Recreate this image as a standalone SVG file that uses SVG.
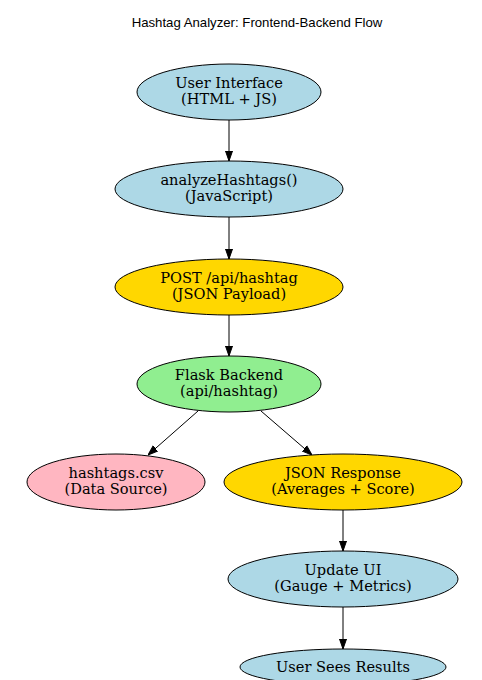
<svg xmlns="http://www.w3.org/2000/svg" width="482" height="680" viewBox="0 0 482 680">
<defs>
<style>
.n ellipse{stroke:#000;stroke-width:1}
.n text{font-family:"DejaVu Serif","Liberation Serif",serif;font-size:14.6px;text-anchor:middle;fill:#000}
.e line{stroke:#000;stroke-width:1}
.t{font-family:"Liberation Sans",Arial,sans-serif;font-size:13.2px;text-anchor:middle;fill:#000}
</style>
<marker id="ah" markerWidth="10" markerHeight="10" refX="10" refY="5" orient="auto" markerUnits="userSpaceOnUse">
<path d="M0,1.5 L10,5 L0,8.5 Z" fill="#000" stroke="#000"/>
</marker>
</defs>
<rect width="482" height="680" fill="#fff"/>
<text class="t" x="257" y="27">Hashtag Analyzer: Frontend-Backend Flow</text>
<g id="connectors" class="e">
<line x1="229" y1="120" x2="229" y2="161" marker-end="url(#ah)"/>
<line x1="229" y1="217" x2="229" y2="259" marker-end="url(#ah)"/>
<line x1="229" y1="315" x2="229" y2="356" marker-end="url(#ah)"/>
<line x1="198" y1="411" x2="148" y2="455" marker-end="url(#ah)"/>
<line x1="261" y1="411" x2="312" y2="455" marker-end="url(#ah)"/>
<line x1="343" y1="510" x2="343" y2="551" marker-end="url(#ah)"/>
<line x1="343" y1="607" x2="343" y2="649" marker-end="url(#ah)"/>
</g>
<g id="ui" class="n"><ellipse cx="229" cy="92" rx="92" ry="28" fill="#add8e6"/><text x="229" y="88">User Interface</text><text x="229" y="103.5">(HTML + JS)</text></g>
<g id="analyze" class="n"><ellipse cx="229" cy="189" rx="114" ry="28" fill="#add8e6"/><text x="229" y="185">analyzeHashtags()</text><text x="229" y="200.5">(JavaScript)</text></g>
<g id="post" class="n"><ellipse cx="229" cy="287" rx="114" ry="28" fill="#ffd700"/><text x="229" y="283">POST /api/hashtag</text><text x="229" y="298.5">(JSON Payload)</text></g>
<g id="flask" class="n"><ellipse cx="229" cy="384" rx="92" ry="28" fill="#90ee90"/><text x="229" y="380">Flask Backend</text><text x="229" y="395.5">(api/hashtag)</text></g>
<g id="csv" class="n"><ellipse cx="116" cy="482" rx="89" ry="28" fill="#ffb6c1"/><text x="116" y="478">hashtags.csv</text><text x="116" y="493.5">(Data Source)</text></g>
<g id="json" class="n"><ellipse cx="343" cy="482" rx="119" ry="28" fill="#ffd700"/><text x="343" y="478">JSON Response</text><text x="343" y="493.5">(Averages + Score)</text></g>
<g id="update" class="n"><ellipse cx="343" cy="579" rx="115" ry="28" fill="#add8e6"/><text x="343" y="575">Update UI</text><text x="343" y="590.5">(Gauge + Metrics)</text></g>
<g id="sees" class="n"><ellipse cx="343" cy="667" rx="103" ry="18" fill="#add8e6"/><text x="343" y="672">User Sees Results</text></g>
</svg>
